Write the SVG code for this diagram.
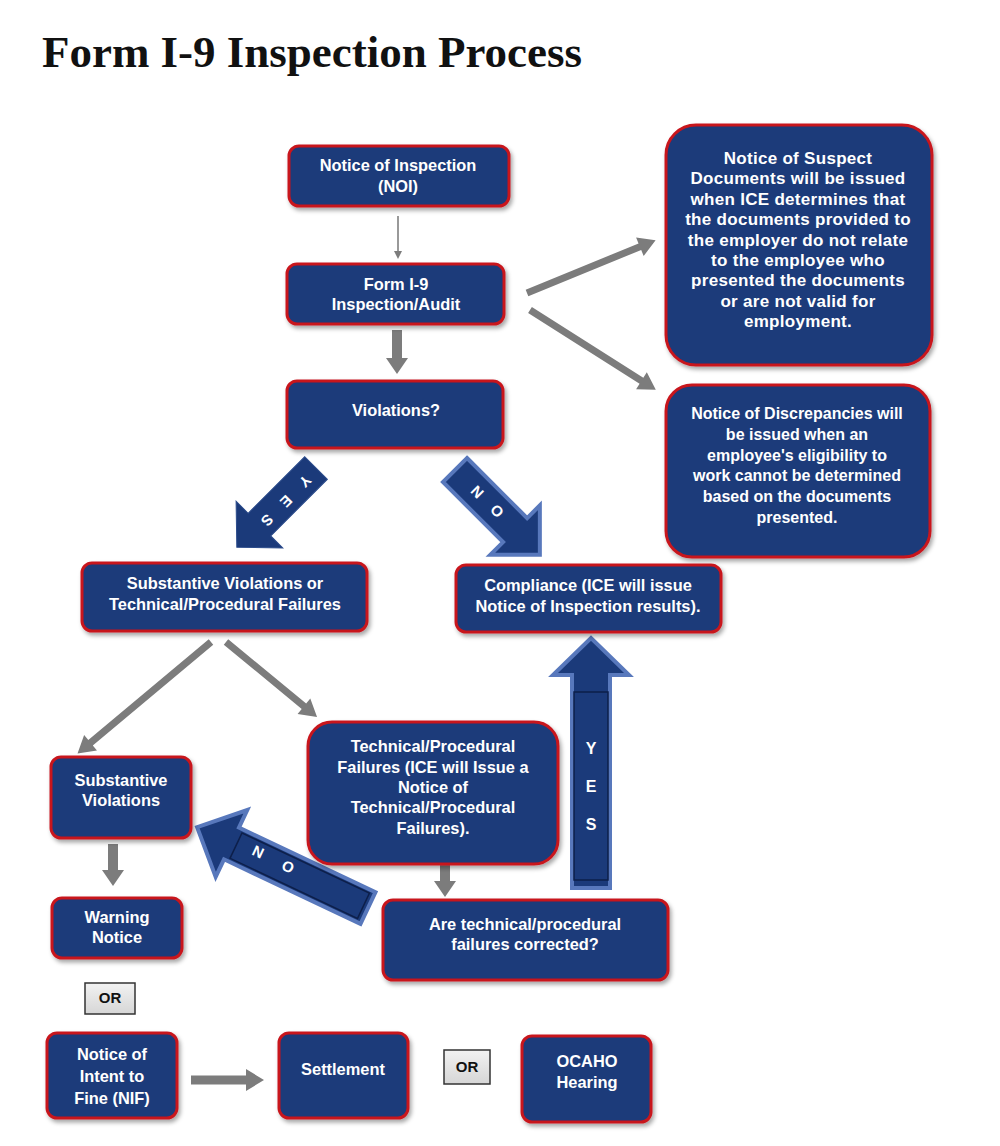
<svg xmlns="http://www.w3.org/2000/svg" width="1000" height="1146" viewBox="0 0 1000 1146">
<defs>
<filter id="sh" x="-10%" y="-10%" width="125%" height="130%">
<feDropShadow dx="2" dy="3" stdDeviation="2" flood-color="#000" flood-opacity="0.35"/>
</filter>
<linearGradient id="org" x1="0" y1="0" x2="0" y2="1">
<stop offset="0" stop-color="#f2f2f2"/><stop offset="1" stop-color="#d6d6d6"/>
</linearGradient>
</defs>
<style>
.box{fill:#1b3b7a;stroke:#c8141e;stroke-width:3;filter:url(#sh)}
.t{font-family:"Liberation Sans",Arial,sans-serif;font-weight:bold;font-size:16.4px;fill:#fff;text-anchor:middle}
.t16{font-size:16px}
.t17{font-size:17px;letter-spacing:0.3px}
.orb{fill:url(#org);stroke:#333;stroke-width:1.5}
.ort{font-family:"Liberation Sans",Arial,sans-serif;font-weight:bold;font-size:15px;fill:#111;text-anchor:middle}
.ga{fill:#7c7c7c}
.ba{fill:#1b3a7a;stroke:#2c4c8c;stroke-width:1}
.bo{fill:#1b3a7a;stroke:#5878bc;stroke-width:4;stroke-linejoin:miter}
.inner{fill:none;stroke:#0d1f4a;stroke-width:1.5}
.bl{font-family:"Liberation Sans",Arial,sans-serif;font-weight:bold;font-size:15px;fill:#fff;text-anchor:middle}
.bl16{font-size:16px}
</style>
<rect width="1000" height="1146" fill="#fff"/>
<text x="42" y="67" font-family="'Liberation Serif','Times New Roman',serif" font-weight="bold" font-size="45" fill="#111" textLength="540" lengthAdjust="spacingAndGlyphs">Form I-9 Inspection Process</text>

<g id="connectors">
<line x1="398" y1="216" x2="398" y2="252" stroke="#777" stroke-width="1.5"/>
<path class="ga" d="M394,251 L402,251 L398,259 Z"/>
<path class="ga" transform="translate(397,330) rotate(90)" d="M0,-5 H28 V-11 L44,0 L28,11 V5 H0 Z"/>
<path class="ga" transform="translate(527,293) rotate(-22.3)" d="M0,-3.5 H122 V-10 L139,0 L122,10 V3.5 H0 Z"/>
<path class="ga" transform="translate(530,310) rotate(32.4)" d="M0,-3.5 H132 V-10 L149,0 L132,10 V3.5 H0 Z"/>
<path class="ga" transform="translate(211,642) rotate(140.1)" d="M0,-3.5 H157 V-10 L174,0 L157,10 V3.5 H0 Z"/>
<path class="ga" transform="translate(226,642) rotate(39.5)" d="M0,-3.5 H101 V-10 L118,0 L101,10 V3.5 H0 Z"/>
<path class="ga" transform="translate(113,844) rotate(90)" d="M0,-5 H26 V-11 L42,0 L26,11 V5 H0 Z"/>
<path class="ga" transform="translate(445,852) rotate(90)" d="M0,-5 H29 V-11 L45,0 L29,11 V5 H0 Z"/>
<path class="ga" transform="translate(191,1080) rotate(0)" d="M0,-4.5 H55 V-11 L73,0 L55,11 V4.5 H0 Z"/>

<g id="yes-arrow-1">
<path class="ba" transform="translate(316,468) rotate(135)" d="M0,-16 H80 V-33 L112,0 L80,33 V16 H0 Z"/>
<text class="bl" transform="translate(305,481) rotate(135)" dy="5">Y</text>
<text class="bl" transform="translate(286,501) rotate(135)" dy="5">E</text>
<text class="bl" transform="translate(267,520) rotate(135)" dy="5">S</text>
</g>
<g id="no-arrow-1">
<path class="bo" transform="translate(455,470) rotate(45)" d="M0,-17 H85 V-35 L120,0 L85,35 V17 H0 Z"/>
<text class="bl" transform="translate(477,492) rotate(45)" dy="5">N</text>
<text class="bl" transform="translate(497,511) rotate(45)" dy="5">O</text>
</g>
<g id="yes-arrow-2">
<g transform="translate(591,888) rotate(-90)">
<path class="bo" d="M0,-19 H213 V-38 L250,0 L213,38 V19 H0 Z"/>
<rect class="inner" x="8" y="-17" width="188" height="34"/>
</g>
<text class="bl bl16" x="591" y="754">Y</text>
<text class="bl bl16" x="591" y="792">E</text>
<text class="bl bl16" x="591" y="830">S</text>
</g>
<g id="no-arrow-2">
<g transform="translate(368,908) rotate(205.3)">
<path class="bo" d="M0,-17.5 H151 V-37 L189,0 L151,37 V17.5 H0 Z"/>
<rect class="inner" x="5" y="-14" width="141" height="28"/>
</g>
<text class="bl" transform="translate(258,852) rotate(25.3)" dy="5">N</text>
<text class="bl" transform="translate(288,867) rotate(25.3)" dy="5">O</text>
</g>
</g>

<g id="noi"><rect class="box" x="289" y="146" width="220" height="60" rx="10"/>
<text class="t" x="398" y="171">Notice of Inspection</text><text class="t" x="398" y="192">(NOI)</text></g>

<g id="audit"><rect class="box" x="287" y="264" width="217" height="60" rx="10"/>
<text class="t" x="396" y="290">Form I-9</text><text class="t" x="396" y="310">Inspection/Audit</text></g>

<g id="violations"><rect class="box" x="287" y="381" width="216" height="67" rx="10"/>
<text class="t" x="396" y="416">Violations?</text></g>

<g id="suspect"><rect class="box" x="666" y="125" width="266" height="240" rx="30"/>
<text class="t t17" x="798" y="164">Notice of Suspect</text>
<text class="t t17" x="798" y="184.4">Documents will be issued</text>
<text class="t t17" x="798" y="204.8">when ICE determines that</text>
<text class="t t17" x="798" y="225.2">the documents provided to</text>
<text class="t t17" x="798" y="245.6">the employer do not relate</text>
<text class="t t17" x="798" y="266">to the employee who</text>
<text class="t t17" x="798" y="286.4">presented the documents</text>
<text class="t t17" x="798" y="306.8">or are not valid for</text>
<text class="t t17" x="798" y="327.2">employment.</text></g>

<g id="discrepancies"><rect class="box" x="666" y="385" width="264" height="172" rx="26"/>
<text class="t t16" x="797" y="419">Notice of Discrepancies will</text>
<text class="t t16" x="797" y="439.8">be issued when an</text>
<text class="t t16" x="797" y="460.6">employee's eligibility to</text>
<text class="t t16" x="797" y="481.4">work cannot be determined</text>
<text class="t t16" x="797" y="502.2">based on the documents</text>
<text class="t t16" x="797" y="523">presented.</text></g>

<g id="subtech"><rect class="box" x="82" y="563" width="285" height="68" rx="10"/>
<text class="t" x="225" y="589">Substantive Violations or</text><text class="t" x="225" y="610">Technical/Procedural Failures</text></g>

<g id="compliance"><rect class="box" x="456" y="565" width="265" height="67" rx="10"/>
<text class="t" x="588" y="591">Compliance (ICE will issue</text><text class="t" x="588" y="612">Notice of Inspection results).</text></g>

<g id="techfail"><rect class="box" x="308" y="722" width="250" height="142" rx="24"/>
<text class="t" x="433" y="752">Technical/Procedural</text>
<text class="t" x="433" y="773">Failures (ICE will Issue a</text>
<text class="t" x="433" y="793">Notice of</text>
<text class="t" x="433" y="813">Technical/Procedural</text>
<text class="t" x="433" y="834">Failures).</text></g>

<g id="substantive"><rect class="box" x="51" y="757" width="140" height="81" rx="10"/>
<text class="t" x="121" y="786">Substantive</text><text class="t" x="121" y="806">Violations</text></g>

<g id="warning"><rect class="box" x="52" y="898" width="130" height="60" rx="10"/>
<text class="t" x="117" y="923">Warning</text><text class="t" x="117" y="943">Notice</text></g>

<g id="corrected"><rect class="box" x="383" y="900" width="285" height="80" rx="10"/>
<text class="t" x="525" y="930">Are technical/procedural</text><text class="t" x="525" y="950">failures corrected?</text></g>

<g id="or1"><rect class="orb" x="85" y="983" width="50" height="31"/>
<text class="ort" x="110" y="1003">OR</text></g>

<g id="nif"><rect class="box" x="47" y="1033" width="130" height="85" rx="10"/>
<text class="t" x="112" y="1060">Notice of</text><text class="t" x="112" y="1082">Intent to</text><text class="t" x="112" y="1104">Fine (NIF)</text></g>

<g id="settlement"><rect class="box" x="279" y="1033" width="129" height="85" rx="10"/>
<text class="t" x="343" y="1075">Settlement</text></g>

<g id="or2"><rect class="orb" x="444" y="1050" width="46" height="34"/>
<text class="ort" x="467" y="1072">OR</text></g>

<g id="ocaho"><rect class="box" x="522" y="1036" width="129" height="86" rx="10"/>
<text class="t" x="587" y="1067">OCAHO</text><text class="t" x="587" y="1088">Hearing</text></g>
</svg>
